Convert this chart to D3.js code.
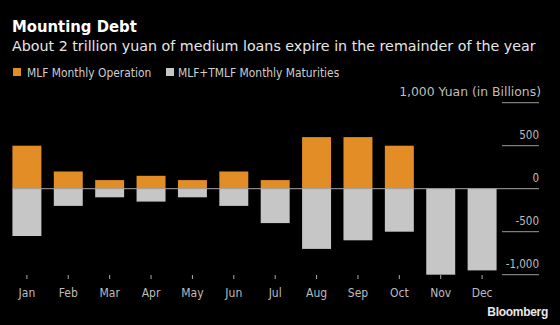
<!DOCTYPE html>
<html><head><meta charset="utf-8">
<script src="https://cdn.jsdelivr.net/npm/d3@7"></script>
<style>
html,body{margin:0;padding:0;background:#000;}
svg{display:block;font-family:"DejaVu Sans Condensed","DejaVu Sans",sans-serif;}
</style></head>
<body>
<script>
const months = ["Jan","Feb","Mar","Apr","May","Jun","Jul","Aug","Sep","Oct","Nov","Dec"];
const operation = [500,200,100,150,100,200,100,600,600,500,0,0];
const maturities = [-550,-200,-100,-150,-100,-200,-400,-700,-600,-500,-1000,-950];
const yTicks = [1000,500,0,-500,-1000];
const seriesNames = ["MLF Monthly Operation","MLF+TMLF Monthly Maturities"];
const colors = ["#e38d26","#c6c6c6"];

const W=560,H=325;
const svg=d3.select("body").append("svg").attr("width",W).attr("height",H);
svg.append("rect").attr("width",W).attr("height",H).attr("fill","#000");

svg.append("text").attr("x",12).attr("y",32).attr("fill","#fff")
  .attr("font-size",16.5).attr("font-weight","bold").text("Mounting Debt");
svg.append("text").attr("x",12).attr("y",51).attr("fill","#e6e6e6")
  .style("font-family","\"DejaVu Sans\",sans-serif")
  .attr("font-size",14.25).text("About 2 trillion yuan of medium loans expire in the remainder of the year");

// legend
const lg=[{x:13,tx:27},{x:166,tx:178}];
seriesNames.forEach((n,i)=>{
  svg.append("rect").attr("x",lg[i].x).attr("y",68).attr("width",8).attr("height",8).attr("fill",colors[i]);
  svg.append("text").attr("x",lg[i].tx).attr("y",76.5).attr("fill","#cfcfcf").attr("font-size",11.9).text(n);
});

const x=d3.scaleBand().domain(months).range([0,509]).paddingInner(0.3).paddingOuter(0.3);
const y=d3.scaleLinear().domain([-1000,1000]).range([274.7,102.7]);

const fmt=v=>d3.format(",")(v).replace("\u2212","-");
const gx1=502,gx2=539;
yTicks.forEach(t=>{
  if(t!==0){
    svg.append("line").attr("x1",gx1).attr("x2",gx2).attr("y1",y(t)).attr("y2",y(t))
      .attr("stroke","#9a9a9a").attr("stroke-width",1);
  }
  const tx=svg.append("text").attr("x",t===1000?541:gx2).attr("y",y(t)-7).attr("text-anchor","end")
    .attr("fill","#bdbdbd").attr("font-size",11.5)
    .text(t===1000?"1,000 Yuan (in Billions)":fmt(t));
  if(t===1000) tx.style("font-family","\"DejaVu Sans\",sans-serif").attr("font-size",12.4);
});

svg.append("g").selectAll("rect").data(months).join("rect")
  .attr("x",d=>x(d)).attr("width",x.bandwidth())
  .attr("y",(d,i)=>y(operation[i])).attr("height",(d,i)=>y(0)-y(operation[i]))
  .attr("fill",colors[0]);
svg.append("g").selectAll("rect").data(months).join("rect")
  .attr("x",d=>x(d)).attr("width",x.bandwidth())
  .attr("y",y(0)).attr("height",(d,i)=>y(maturities[i])-y(0))
  .attr("fill",colors[1]);

svg.append("line").attr("x1",x("Jan")).attr("x2",gx2).attr("y1",y(0)).attr("y2",y(0))
  .attr("stroke","#a8a8a8").attr("stroke-width",1);

const ax=svg.append("g").attr("transform","translate(0,275)")
  .call(d3.axisBottom(x).tickSize(4).tickPadding(9));
ax.select(".domain").remove();
ax.selectAll(".tick line").attr("stroke","#aaa");
ax.selectAll(".tick text").attr("fill","#bdbdbd").attr("font-size",12)
  .attr("font-family","\"DejaVu Sans Condensed\",\"DejaVu Sans\",sans-serif");

svg.append("text").attr("x",548).attr("y",316).attr("text-anchor","end")
  .attr("fill","#e8e8e8").attr("font-size",12).attr("font-weight","bold")
  .style("font-family","\"Liberation Sans\",Arial,sans-serif").attr("letter-spacing","-0.3").text("Bloomberg");
</script>
</body></html>
